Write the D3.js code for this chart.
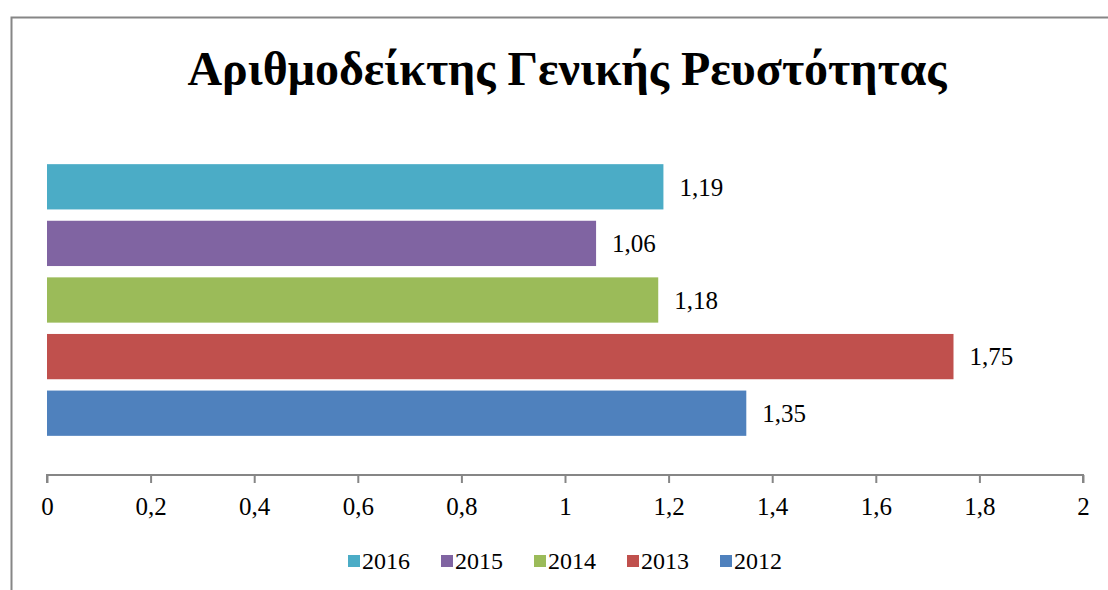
<!DOCTYPE html>
<html>
<head>
<meta charset="utf-8">
<script src="https://d3js.org/d3.v7.min.js"></script>
<style>
  body { margin: 0; background: #fff; }
  svg { display: block; font-family: "Liberation Serif", "Times New Roman", serif; }
</style>
</head>
<body>
<svg id="chart" width="1108" height="590"></svg>
<script>
      var years = ['2016', '2015', '2014', '2013', '2012'];
      var values = [1.19, 1.06, 1.18, 1.75, 1.35];
      var colors = ['#4BACC6', '#8064A2', '#9BBB59', '#C0504D', '#4F81BD'];
      var xTicks = [0, 0.2, 0.4, 0.6, 0.8, 1, 1.2, 1.4, 1.6, 1.8, 2];
      var title = 'Αριθμοδείκτης Γενικής Ρευστότητας';

      var svg = d3.select('#chart');
      var fmt = function(v) { return String(v).replace('.', ','); };

      // chart frame (cut off on the right and bottom like the reference)
      svg.append('rect')
         .attr('x', 11.5).attr('y', 17.5)
         .attr('width', 1120).attr('height', 600)
         .attr('fill', '#fff')
         .attr('stroke', '#868686')
         .attr('stroke-width', 2);

      svg.append('text')
         .attr('x', 567).attr('y', 85)
         .attr('text-anchor', 'middle')
         .attr('font-size', 48)
         .attr('font-weight', 'bold')
         .text(title);

      var xScale = d3.scaleLinear().domain([0, 2]).range([47, 1083]);
      var yScale = d3.scaleBand().domain(years).range([158.5, 441.5]).paddingInner(0.2).paddingOuter(0.1);

      svg.selectAll('rect.bar')
         .data(years)
         .enter()
         .append('rect')
         .attr('class', 'bar')
         .attr('x', xScale(0))
         .attr('y', d => yScale(d))
         .attr('width', (d, i) => xScale(values[i]) - xScale(0))
         .attr('height', yScale.bandwidth())
         .attr('fill', (d, i) => colors[i]);

      svg.selectAll('text.val')
         .data(years)
         .enter()
         .append('text')
         .attr('class', 'val')
         .attr('x', (d, i) => xScale(values[i]) + 16)
         .attr('y', d => yScale(d) + yScale.bandwidth() / 2)
         .attr('dy', '0.35em')
         .attr('font-size', 25)
         .attr('fill', '#000')
         .text((d, i) => fmt(values[i]));

      // x axis
      var xAxis = d3.axisBottom(xScale)
                    .tickValues(xTicks)
                    .tickFormat(fmt)
                    .tickSize(8)
                    .tickPadding(14);
      var ax = svg.append('g')
         .attr('transform', 'translate(0,475)')
         .call(xAxis);
      ax.select('.domain').attr('stroke', '#868686').attr('stroke-width', 2)
        .attr('d', 'M' + xScale(0) + ',8V0H' + xScale(2) + 'V8');
      ax.selectAll('.tick line').attr('stroke', '#868686').attr('stroke-width', 2);
      ax.selectAll('.tick text')
        .attr('font-size', 25)
        .attr('font-family', '"Liberation Serif", "Times New Roman", serif')
        .attr('fill', '#000');

      // legend
      var legX = [348, 441, 534, 627, 720];
      var leg = svg.selectAll('g.leg')
         .data(years)
         .enter()
         .append('g')
         .attr('class', 'leg')
         .attr('transform', (d, i) => 'translate(' + legX[i] + ',561)');
      leg.append('rect')
         .attr('x', 0).attr('y', -6)
         .attr('width', 12).attr('height', 12)
         .attr('fill', (d, i) => colors[i]);
      leg.append('text')
         .attr('x', 14).attr('y', 0)
         .attr('dy', '0.35em')
         .attr('font-size', 24)
         .text(d => d);
</script>
</body>
</html>
